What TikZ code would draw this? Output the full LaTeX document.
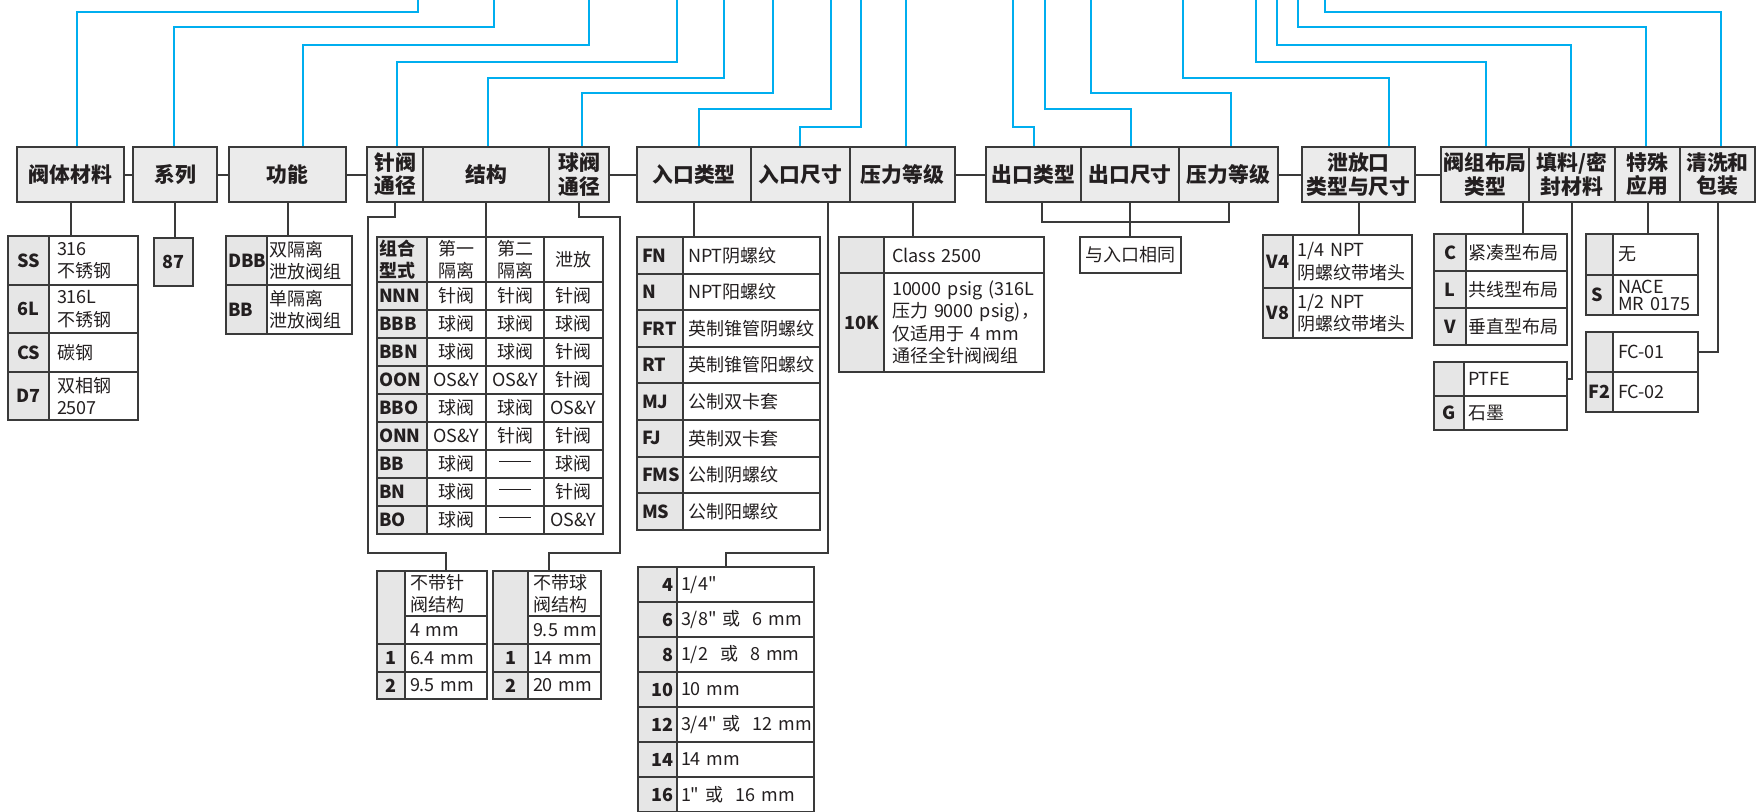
\documentclass[tikz,border=0pt]{standalone}
\usepackage{fontspec}
\setmainfont{Noto Sans CJK SC}
\newfontfamily\inchfont{Noto Sans CJK SC}
\usetikzlibrary{calc}
\definecolor{feedblue}{HTML}{00AEEF}
\definecolor{linegray}{HTML}{3A3A3A}
\definecolor{inkblack}{HTML}{231F20}
\definecolor{hdrgray}{HTML}{EBEBEB}
\definecolor{keygray}{HTML}{E6E6E6}
\newcommand\bodyfont{\fontsize{9}{11.2}\selectfont}
\newcommand\hdrfont{\fontsize{10.4}{11.6}\selectfont\bfseries}
\newcommand\inch{{\inchfont"}}
\newcommand\nodash{\rule[0.34em]{16pt}{0.45pt}}
\def\cpad{3}
% cell from (x1,y1) to (x2,y2), in pixel units
\newcommand\cellat[7][]{%
  \pgfmathsetmacro\cw{(#5-#3)/2}%
  \pgfmathsetmacro\ch{(#6-#4)/2}%
  \pgfmathsetmacro\tw{\cw-2*\cpad}%
  \node[tcell,minimum width=\cw pt,minimum height=\ch pt,#1] (#2) at ({(#3+#5)/2},{(#4+#6)/2}) {#7};}
\tikzset{tcell/.style={draw=linegray, line width=1pt, inner sep=0pt, text=inkblack, align=center},
  hdr/.style={fill=hdrgray, font=\hdrfont},
  key/.style={fill=keygray, font=\bodyfont\bfseries},
  keyl/.style={key, text width=\tw pt, inner xsep=\cpad pt, align=left},
  keyr/.style={key, text width=\tw pt, inner xsep=\cpad pt, align=right},
  desc/.style={text width=\tw pt, inner xsep=\cpad pt, align=left},
  wire/.style={draw=linegray, line width=1pt},
  feed/.style={draw=feedblue, line width=1.3pt}}

\begin{document}
\begin{tikzpicture}[x=0.5pt,y=-0.5pt,font=\bodyfont]
\useasboundingbox (0,0) rectangle (1756,811);
% header row
\foreach \n/\xa/\xb/\lbl in {mat/17/124/阀体材料, ser/133/217/系列, fun/229/346/功能,
    nd/367/423/{针阀\\通径}, st/423/549/结构, bd/549/609/{球阀\\通径},
    it/637/751/入口类型, is/751/850/入口尺寸, ip/850/955/压力等级,
    ot/986/1081/出口类型, os/1081/1179/出口尺寸, op/1179/1278/压力等级,
    vt/1302/1415/{泄放口\\类型与尺寸}, lay/1441/1529/{阀组布局\\类型},
    pk/1529/1615/{填料/密\\封材料}, sp/1615/1680/{特殊\\应用}, cl/1680/1755/{清洗和\\包装}}
  {\cellat[hdr]{\n}{\xa}{147}{\xb}{202}{\lbl}}
\foreach \a/\b in {mat/ser, ser/fun, fun/nd, bd/it, ip/ot, op/vt, vt/lay}
  {\draw[wire] (\a.east) -- (\b.west);}

% body material
\def\cpad{4}
\foreach \code/\txt/\ya/\yb [count=\i] in {SS/{316\\不锈钢}/236/285, 6L/{316L\\不锈钢}/285/333,
    CS/碳钢/333/372, D7/{双相钢\\2507}/372/420}{
  \cellat[key]{mat\i}{8}{\ya}{49}{\yb}{\code}
  \cellat[desc]{matd\i}{49}{\ya}{138}{\yb}{\txt}}
\draw[wire] (mat.south) -- (mat.south |- mat1.north);
% series
\cellat[key]{ser1}{154}{238}{193}{286}{87}
\draw[wire] (ser.south) -- (ser.south |- ser1.north);
% function
\def\cpad{1}
\foreach \code/\txt/\ya/\yb [count=\i] in {DBB/{双隔离\\泄放阀组}/236/285, BB/{单隔离\\泄放阀组}/285/334}{
  \cellat[keyl]{fun\i}{226}{\ya}{267}{\yb}{\code}
  \cellat[desc]{fund\i}{267}{\ya}{352}{\yb}{\txt}}
\draw[wire] (fun.south) -- (fun.south |- fun1.north);

% structure table
\cellat[keyl]{st0}{377}{237}{427}{282}{组合\\型式}
\cellat{st0a}{427}{237}{486}{282}{第一\\隔离}
\cellat{st0b}{486}{237}{544}{282}{第二\\隔离}
\cellat{st0c}{544}{237}{603}{282}{泄放}
\foreach \code/\ca/\cb/\cc [count=\i] in {NNN/针阀/针阀/针阀, BBB/球阀/球阀/球阀, BBN/球阀/球阀/针阀,
    OON/OS\&Y/OS\&Y/针阀, BBO/球阀/球阀/OS\&Y, ONN/OS\&Y/针阀/针阀,
    BB/球阀/\nodash/球阀, BN/球阀/\nodash/针阀, BO/球阀/\nodash/OS\&Y}{
  \pgfmathsetmacro\ya{282+28*(\i-1)}\pgfmathsetmacro\yb{\ya+28}
  \cellat[keyl]{st\i}{377}{\ya}{427}{\yb}{\code}
  \cellat{sta\i}{427}{\ya}{486}{\yb}{\ca}
  \cellat{stb\i}{486}{\ya}{544}{\yb}{\cb}
  \cellat{stc\i}{544}{\ya}{603}{\yb}{\cc}}
\draw[wire] (st.south) -- (st.south |- st0.north);

% bore tables
\def\cpad{2.5}
\cellat[key]{ndk}{377}{571}{405}{644}{}
\cellat[desc]{nd0}{405}{571}{487}{616}{不带针\\阀结构}
\cellat[desc]{ndm}{405}{616}{487}{644}{4~mm}
\cellat[key]{bdk}{493}{571}{528}{644}{}
\cellat[desc]{bd0}{528}{571}{601}{616}{不带球\\阀结构}
\cellat[desc]{bdm}{528}{616}{601}{644}{9.5~mm}
\foreach \code/\ta/\tb/\ya/\yb in {1/6.4~mm/14~mm/644/672, 2/9.5~mm/20~mm/672/699}{
  \cellat[key]{nd\code}{377}{\ya}{405}{\yb}{\code}
  \cellat[desc]{ndd\code}{405}{\ya}{487}{\yb}{\ta}
  \cellat[key]{bd\code}{493}{\ya}{528}{\yb}{\code}
  \cellat[desc]{bdd\code}{528}{\ya}{601}{\yb}{\tb}}
\draw[wire] (nd.south) |- (368,217) -- (368,553) -| (nd0.north);
\draw[wire] (bd.south) |- (620,217) -- (620,553) -| ($(bd0.north)+(-16,0)$);

% inlet type
\def\cpad{2.5}
\foreach \code/\txt [count=\i] in {FN/NPT阴螺纹, N/NPT阳螺纹, FRT/英制锥管阴螺纹, RT/英制锥管阳螺纹,
    MJ/公制双卡套, FJ/英制双卡套, FMS/公制阴螺纹, MS/公制阳螺纹}{
  \pgfmathsetmacro\ya{237+36.6*(\i-1)}\pgfmathsetmacro\yb{\ya+36.6}
  \cellat[keyl]{it\i}{637}{\ya}{683}{\yb}{\code}
  \cellat[desc]{itd\i}{683}{\ya}{820}{\yb}{\txt}}
\draw[wire] (it.south) -- (it.south |- it1.north);
% inlet size
\def\cpad{2}
\foreach \code/\txt [count=\i] in {4/{1/4\inch}, 6/{3/8\inch~或~~6~mm}, 8/{1/2~~或~~8~mm}, 10/10~mm,
    12/{3/4\inch~或~~12~mm}, 14/14~mm, 16/{1\inch~或~~16~mm}}{
  \pgfmathsetmacro\ya{567+35*(\i-1)}\pgfmathsetmacro\yb{\ya+35}
  \cellat[keyr]{sz\i}{638}{\ya}{677}{\yb}{\code}
  \cellat[desc]{szd\i}{677}{\ya}{814}{\yb}{\txt}}
\draw[wire] ($(is.south)+(27,0)$) -- ++(0,350) -| ($(sz1.north west)!0.5!(szd1.north east)$);
% inlet pressure
\def\cpad{4}
\cellat[key]{ip1}{839}{237}{884}{273}{}
\cellat[desc]{ipd1}{884}{237}{1044}{273}{Class~2500}
\cellat[key]{ip2}{839}{273}{884}{372}{10K}
\cellat[desc]{ipd2}{884}{273}{1044}{372}{10000~psig~(316L\\压力~9000~psig)，\\仅适用于~4~mm\\通径全针阀阀组}
\coordinate (ipx) at ($(ip.south)+(10,0)$);
\draw[wire] (ipx) -- (ipx |- ipd1.north);

% outlet
\cellat{same}{1080}{237}{1181}{273}{与入口相同}
\draw[wire] ($(ot.south)+(8,0)$) -- ++(0,19) -| (op.south);
\draw[wire] (os.south) -- (os.south |- same.north);

% vent
\def\cpad{2}
\foreach \code/\txt/\ya/\yb [count=\i] in {V4/{1/4~NPT\\阴螺纹带堵头}/235/288, V8/{1/2~NPT\\阴螺纹带堵头}/288/338}{
  \cellat[key]{vt\i}{1263}{\ya}{1293}{\yb}{\code}
  \cellat[desc]{vtd\i}{1293}{\ya}{1412}{\yb}{\txt}}
\draw[wire] (vt.south) -- (vt.south |- vt1.north);

% layout
\def\cpad{1}
\foreach \code/\txt [count=\i] in {C/紧凑型布局, L/共线型布局, V/垂直型布局}{
  \pgfmathsetmacro\ya{234+37*(\i-1)}\pgfmathsetmacro\yb{\ya+37}
  \cellat[key]{lay\i}{1434}{\ya}{1466}{\yb}{\code}
  \cellat[desc]{layd\i}{1466}{\ya}{1567}{\yb}{\txt}}
\coordinate (layx) at ($(lay.south east)+(-7,0)$);
\draw[wire] (layx) -- (layx |- lay1.north);
% packing
\def\cpad{2}
\foreach \code/\txt/\ya/\yb [count=\i] in {/PTFE/362/396, G/石墨/396/430}{
  \cellat[key]{pk\i}{1434}{\ya}{1464}{\yb}{\code}
  \cellat[desc]{pkd\i}{1464}{\ya}{1567}{\yb}{\txt}}
\draw[wire] (pk.south) |- (pkd1.east);
% special / cleaning
\def\cpad{2.5}
\cellat[key]{sp1}{1586}{234}{1613}{275}{}
\cellat[desc]{spd1}{1613}{234}{1698}{275}{无}
\cellat[keyl]{sp2}{1586}{275}{1613}{315}{S}
\cellat[desc,font=\fontsize{9}{8.6}\selectfont]{spd2}{1613}{275}{1698}{315}{NACE\\MR~0175}
\draw[wire] (sp.south) -- (sp.south |- sp1.north);
\cellat[key]{cl1}{1586}{332}{1613}{372}{}
\cellat[desc]{cld1}{1613}{332}{1698}{372}{FC-01}
\cellat[key]{cl2}{1586}{372}{1613}{412}{F2}
\cellat[desc]{cld2}{1613}{372}{1698}{412}{FC-02}
\draw[wire] (cl.south) |- (cld1.east);

% blue feed lines to the part number
\foreach \n/\xa/\yl/\xt in {mat/77/12/418, ser/174/27/494, fun/303/45/589, nd/397/62/677,
    st/488/78/724, bd/582/93/773, it/699/109/831, is/800/127/861, ip/906/100/906,
    ot/1034/127/1013, os/1131/109/1045, op/1231/93/1091, vt/1389/78/1183,
    lay/1486/62/1256, pk/1571/45/1277, sp/1646/27/1298, cl/1721/12/1325}{
  \coordinate (bend) at (\xa,\yl);
  \coordinate (top) at (\xt,-4);
  \draw[feed] (bend |- \n.north) -- (bend) -| (top);}
\end{tikzpicture}
\end{document}
